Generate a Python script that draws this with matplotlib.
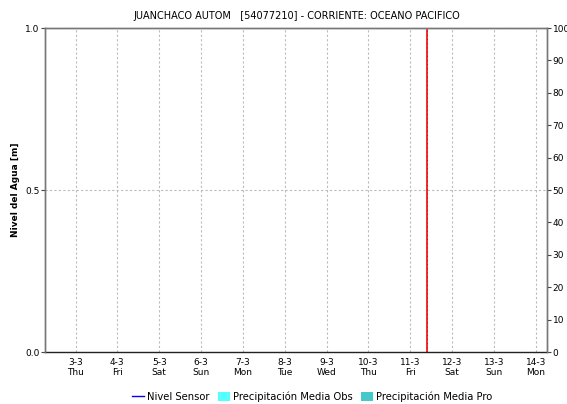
import matplotlib.pyplot as plt
from matplotlib.lines import Line2D
from matplotlib.patches import Patch

# ===============================
# Data
# ===============================
TITLE = "JUANCHACO AUTOM   [54077210] - CORRIENTE: OCEANO PACIFICO"
day_ticks = [3, 4, 5, 6, 7, 8, 9, 10, 11, 12, 13, 14]
day_labels = ["3-3\nThu", "4-3\nFri", "5-3\nSat", "6-3\nSun", "7-3\nMon", "8-3\nTue",
              "9-3\nWed", "10-3\nThu", "11-3\nFri", "12-3\nSat", "13-3\nSun", "14-3\nMon"]
x_range = [2.27, 14.27]
now_day = 11.40

nivel_x = []
nivel_y = []
precip_obs = []
precip_pro = []

level_ticks = [0.0, 0.5, 1.0]
precip_ticks = list(range(0, 101, 10))

# ===============================
# Figure
# ===============================
plt.rcParams["font.family"] = "DejaVu Sans"
fig = plt.figure(figsize=(5.67, 4.04), dpi=100)
ax = fig.add_axes([45 / 567, 1 - 352 / 404, (547 - 45) / 567, (352 - 28) / 404])
ax2 = ax.twinx()

ax.plot(nivel_x, nivel_y, color="blue", linewidth=1)

ax.set_xlim(*x_range)
ax.set_ylim(0, 1)
ax2.set_ylim(0, 100)

ax.set_xticks(day_ticks)
ax.set_xticklabels(day_labels, fontsize=6.5)
ax.set_yticks(level_ticks)
ax.set_yticklabels([f"{v:.1f}" for v in level_ticks], fontsize=6.5)
ax2.set_yticks(precip_ticks)
ax2.set_yticklabels([str(v) for v in precip_ticks], fontsize=6.5)

ax.tick_params(axis="x", length=0, pad=4)
ax.tick_params(axis="y", length=3, width=0.8, color="#444444", pad=1)
ax2.tick_params(axis="y", length=3, width=0.8, color="#444444", pad=1)

ax.grid(True, linestyle=(0, (2, 2)), color="#bbbbbb", linewidth=0.8)

for a in (ax, ax2):
    for side in ("left", "right", "top"):
        a.spines[side].set_color("#777777")
        a.spines[side].set_linewidth(1)
ax2.spines["bottom"].set_visible(False)
ax.spines["bottom"].set_color("#222222")
ax.spines["bottom"].set_linestyle((0, (1, 1)))
ax.spines["bottom"].set_linewidth(1)

# current time marker
ax.axvline(now_day, color="red", linewidth=1.2)
ax.axvline(now_day, color="#333333", linewidth=0.6, linestyle=(0, (1, 4)))

fig.text(16 / 567, 1 - 190 / 404, "Nivel del Agua [m]", rotation=90, ha="center",
         va="center", fontsize=6.5, fontweight="bold")
fig.text(297 / 567, 1 - 16 / 404, TITLE, ha="center", va="center", fontsize=7)

handles = [
    Line2D([], [], color="blue", linewidth=1),
    Patch(facecolor="#55FFFF", edgecolor="none"),
    Patch(facecolor="#44C8C8", edgecolor="none"),
]
labels = ["Nivel Sensor", "Precipitación Media Obs", "Precipitación Media Pro"]
fig.legend(handles, labels, loc="center", bbox_to_anchor=(312 / 567, 1 - 397 / 404),
           ncol=3, frameon=False, fontsize=7.2, handlelength=1.2, handletextpad=0.3,
           columnspacing=0.8, handleheight=1.0)

fig.savefig("out.png", dpi=100)
